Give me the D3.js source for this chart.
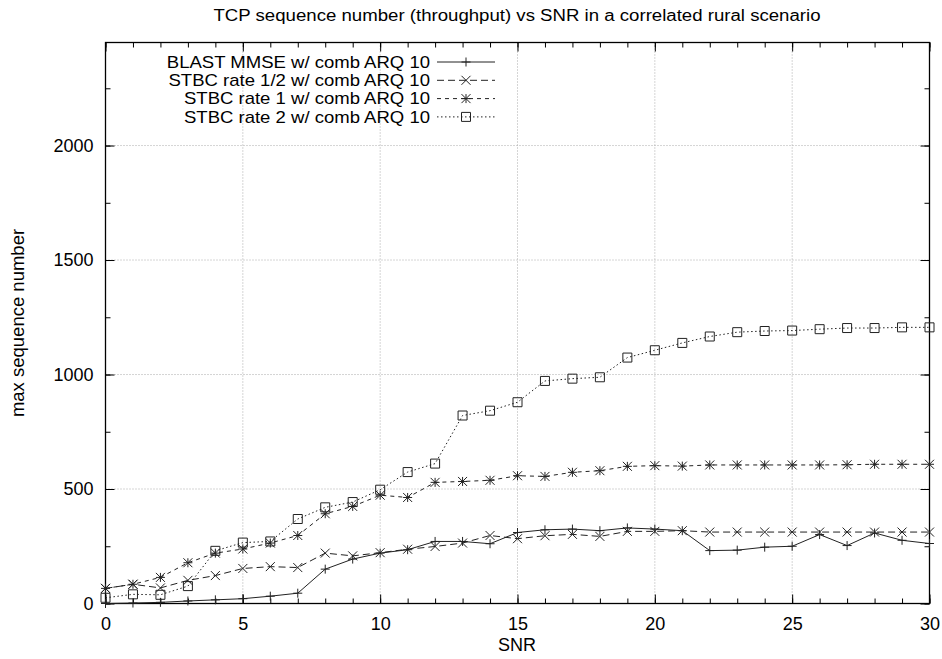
<!DOCTYPE html>
<html>
<head>
<meta charset="utf-8">
<script src="https://cdn.jsdelivr.net/npm/d3@7"></script>
<style>
  body { margin: 0; background: #fff; }
  text { font-family: "Liberation Sans", Arial, sans-serif; fill: #000; }
</style>
</head>
<body>
<div id="chart"></div>
<script>
// chart values
var snr = [0, 1, 2, 3, 4, 5, 6, 7, 8, 9, 10, 11, 12, 13, 14, 15, 16, 17, 18, 19, 20, 21, 22, 23, 24, 25, 26, 27, 28, 29, 30];
var blast = [0, 2, 5, 11, 16, 21, 32, 45, 150, 194, 220, 235, 271, 271, 261, 310, 322, 325, 318, 330, 325, 318, 231, 233, 246, 250, 301, 253, 308, 276, 262];
var stbcHalf = [66, 84, 68, 101, 122, 153, 161, 157, 220, 208, 222, 237, 249, 264, 297, 283, 296, 302, 293, 315, 315, 318, 312, 312, 312, 312, 312, 312, 312, 312, 312];
var stbcOne = [66, 84, 114, 178, 220, 238, 264, 297, 392, 424, 473, 463, 529, 533, 538, 558, 555, 573, 580, 599, 602, 600, 605, 605, 605, 605, 605, 606, 608, 608, 608];
var stbcTwo = [25, 40, 38, 76, 230, 266, 271, 369, 420, 443, 497, 574, 611, 821, 842, 879, 972, 982, 988, 1074, 1106, 1138, 1166, 1185, 1190, 1192, 1198, 1203, 1203, 1206, 1206];
var seriesNames = ["BLAST MMSE w/ comb ARQ 10", "STBC rate 1/2 w/ comb ARQ 10", "STBC rate 1 w/ comb ARQ 10", "STBC rate 2 w/ comb ARQ 10"];
var xTicks = [0, 5, 10, 15, 20, 25, 30];
var yTicks = [0, 500, 1000, 1500, 2000];
var yMinor = [0, 250, 500, 750, 1000, 1250, 1500, 1750, 2000, 2250];

var width = 942, height = 659;
var pLeft = 105.5, pRight = 929.5, pTop = 42.5, pBottom = 603.5;

var svg = d3.select('#chart').append('svg')
  .attr('width', width)
  .attr('height', height);

var x = d3.scaleLinear().domain([0, 30]).range([pLeft, pRight]);
var y = d3.scaleLinear().domain([0, 2450]).range([pBottom, pTop]);

// grid
var grid = svg.append('g').attr('stroke', '#aaa').attr('stroke-dasharray', '1,2');
grid.selectAll('.gx').data(xTicks.slice(1, -1)).enter().append('line')
  .attr('x1', function(d) { return x(d); }).attr('x2', function(d) { return x(d); })
  .attr('y1', pTop).attr('y2', pBottom);
grid.selectAll('.gy').data(yTicks.slice(1)).enter().append('line')
  .attr('x1', pLeft).attr('x2', pRight)
  .attr('y1', function(d) { return y(d); }).attr('y2', function(d) { return y(d); });

// axes, ticks pointing inward
function axisStyle(g) {
  g.select('.domain').remove();
  g.selectAll('line').attr('stroke', '#000');
  g.selectAll('text').style('font-size', '18px').attr('fill', '#000');
}
svg.append('g').attr('transform', 'translate(0,' + pBottom + ')')
  .call(d3.axisBottom(x).tickValues(snr).tickSize(-5).tickFormat('')).call(axisStyle);
svg.append('g').attr('transform', 'translate(0,' + pBottom + ')')
  .call(d3.axisBottom(x).tickValues(xTicks).tickSize(-9).tickPadding(14).tickFormat(d3.format('d'))).call(axisStyle);
svg.append('g').attr('transform', 'translate(0,' + pTop + ')')
  .call(d3.axisTop(x).tickValues(snr).tickSize(-5).tickFormat('')).call(axisStyle);
svg.append('g').attr('transform', 'translate(0,' + pTop + ')')
  .call(d3.axisTop(x).tickValues(xTicks).tickSize(-9).tickFormat('')).call(axisStyle);
svg.append('g').attr('transform', 'translate(' + pLeft + ',0)')
  .call(d3.axisLeft(y).tickValues(yMinor).tickSize(-5).tickFormat('')).call(axisStyle);
svg.append('g').attr('transform', 'translate(' + pLeft + ',0)')
  .call(d3.axisLeft(y).tickValues(yTicks).tickSize(-9).tickPadding(12).tickFormat(d3.format('d'))).call(axisStyle);
svg.append('g').attr('transform', 'translate(' + pRight + ',0)')
  .call(d3.axisRight(y).tickValues(yMinor).tickSize(-5).tickFormat('')).call(axisStyle);
svg.append('g').attr('transform', 'translate(' + pRight + ',0)')
  .call(d3.axisRight(y).tickValues(yTicks).tickSize(-9).tickFormat('')).call(axisStyle);

svg.append('rect')
  .attr('x', pLeft).attr('y', pTop)
  .attr('width', pRight - pLeft).attr('height', pBottom - pTop)
  .attr('fill', 'none').attr('stroke', '#000').attr('stroke-width', 1.3);

// marker shapes
var r = 4.5;
var markers = [
  'M' + (-r) + ',0H' + r + 'M0,' + (-r) + 'V' + r,
  'M' + (-r) + ',' + (-r) + 'L' + r + ',' + r + 'M' + (-r) + ',' + r + 'L' + r + ',' + (-r),
  'M' + (-r) + ',0H' + r + 'M0,' + (-r) + 'V' + r + 'M' + (-r) + ',' + (-r) + 'L' + r + ',' + r + 'M' + (-r) + ',' + r + 'L' + r + ',' + (-r),
  'M' + (-r) + ',' + (-r) + 'H' + r + 'V' + r + 'H' + (-r) + 'Z'
];
var dashes = [null, '7,4', '4,4', '1.5,2.5'];
var allSeries = [blast, stbcHalf, stbcOne, stbcTwo];
var lineColor = '#222';

var line = d3.line()
  .x(function(d, i) { return x(snr[i]); })
  .y(function(d) { return y(d); });

allSeries.forEach(function(vals, k) {
  svg.append('path')
    .attr('d', line(vals))
    .attr('fill', 'none')
    .attr('stroke', lineColor)
    .attr('stroke-width', 1)
    .attr('stroke-dasharray', dashes[k]);
  svg.selectAll('.m' + k).data(vals).enter().append('path')
    .attr('class', 'm' + k)
    .attr('transform', function(d, i) { return 'translate(' + x(snr[i]) + ',' + y(d) + ')'; })
    .attr('d', markers[k])
    .attr('fill', 'none')
    .attr('stroke', lineColor)
    .attr('stroke-width', 1);
});

// legend (slightly stretched glyphs, like the original)
var legend = svg.append('g');
seriesNames.forEach(function(name, k) {
  var ly = 62 + k * 18.3;
  var t = legend.append('text')
    .attr('x', 430).attr('y', ly).attr('dy', '0.35em')
    .attr('text-anchor', 'end')
    .style('font-size', '16.4px')
    .text(name);
  t.attr('textLength', t.node().getComputedTextLength() * 1.13)
    .attr('lengthAdjust', 'spacingAndGlyphs');
  legend.append('line')
    .attr('x1', 437).attr('x2', 495).attr('y1', ly).attr('y2', ly)
    .attr('stroke', lineColor).attr('stroke-width', 1)
    .attr('stroke-dasharray', dashes[k]);
  legend.append('path')
    .attr('transform', 'translate(466,' + ly + ')')
    .attr('d', markers[k])
    .attr('fill', 'none').attr('stroke', lineColor).attr('stroke-width', 1);
});

// titles
svg.append('text')
  .attr('x', 517).attr('y', 15).attr('dy', '0.35em')
  .attr('text-anchor', 'middle')
  .attr('textLength', 607)
  .attr('lengthAdjust', 'spacingAndGlyphs')
  .style('font-size', '16px')
  .text('TCP sequence number (throughput) vs SNR in a correlated rural scenario');
svg.append('text')
  .attr('x', 517).attr('y', 645).attr('dy', '0.35em')
  .attr('text-anchor', 'middle')
  .style('font-size', '18px')
  .text('SNR');
svg.append('text')
  .attr('transform', 'translate(18,323) rotate(-90)')
  .attr('dy', '0.35em')
  .attr('text-anchor', 'middle')
  .style('font-size', '18.5px')
  .text('max sequence number');
</script>
</body>
</html>
